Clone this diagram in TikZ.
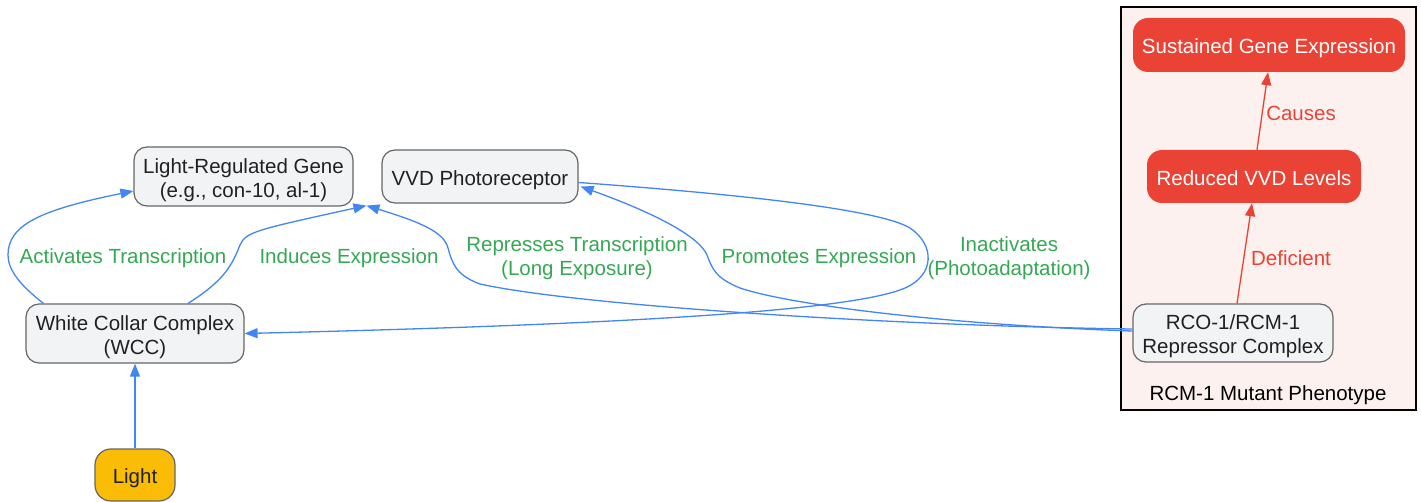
\documentclass[tikz,border=0pt]{standalone}
\usepackage{fontspec}
\setmainfont{Liberation Sans}
\usetikzlibrary{arrows.meta}
\definecolor{eblue}{HTML}{4285F4}
\definecolor{egreen}{HTML}{34A853}
\definecolor{ered}{HTML}{EA4335}
\definecolor{nfill}{HTML}{F1F3F4}
\definecolor{nborder}{HTML}{666666}
\definecolor{ntext}{HTML}{202124}
\definecolor{gold}{HTML}{FBBC05}
\definecolor{pinkbg}{HTML}{FDF1F0}
\begin{document}
\begin{tikzpicture}[x=1pt,y=-1pt, font=\fontsize{20.5}{24}\selectfont,
 box/.style={draw=nborder, line width=1.2pt, fill=nfill, rounded corners=13pt, text=ntext, align=center, inner sep=0pt},
 one/.style={text height=22pt, text depth=4.5pt},
 two/.style={text height=46pt, text depth=4.5pt},
 redbox/.style={fill=ered, rounded corners=15pt, text=white, align=center, inner sep=0pt, one},
 arr/.style={draw=eblue, line width=1.3pt, -{Triangle[length=13pt,width=10pt]}},
 rarr/.style={draw=ered, line width=1.3pt, -{Triangle[length=13pt,width=10pt]}},
 lbl/.style={text=egreen, align=center, inner sep=0pt},
 rlbl/.style={text=ered, align=center, inner sep=0pt}]
\useasboundingbox (0,0) rectangle (1421,502);

% cluster
\node[draw=black, fill=pinkbg, line width=1.2pt, minimum width=295pt, minimum height=403pt, inner sep=0pt] (clu) at (1268.5,208.5) {};
\node[text=black, inner sep=0pt] (clulbl) at (1268,395) {RCM-1 Mutant Phenotype};

% nodes
\node[box, two, minimum width=219pt, minimum height=59pt] (lrg) at (243.5,176.5) {Light-Regulated Gene\\(e.g., con-10, al-1)};
\node[box, one, minimum width=196pt, minimum height=53pt] (vvd) at (480,176.5) {VVD Photoreceptor};
\node[box, two, minimum width=218pt, minimum height=59pt] (wcc) at (135,333.5) {White Collar Complex\\(WCC)};
\node[box, one, fill=gold, rounded corners=16pt, minimum width=80pt, minimum height=52pt] (light) at (135,475) {Light};
\node[box, two, minimum width=200pt, minimum height=58pt] (rco) at (1233,333) {RCO-1/RCM-1\\Repressor Complex};
\node[redbox, minimum width=214pt, minimum height=53pt] (red) at (1254,176.5) {Reduced VVD Levels};
\node[redbox, minimum width=272pt, minimum height=54pt] (sus) at (1269,45) {Sustained Gene Expression};

\coordinate (tip) at ([xshift=-15pt,yshift=-2pt]vvd.south west);

% edges
\draw[arr] (light) -- (wcc);
\draw[arr] ([xshift=18pt]wcc.north west) .. controls (20,285) and (8,270) .. (8,255)
   .. controls (8,225) and (40,210) .. ([yshift=-14.5pt]lrg.west);
\draw[arr] ([xshift=53pt]wcc.north) .. controls (225,280) and (232,265) .. (240,245)
   .. controls (246,232) and (255,230) .. (tip);
\draw[arr] ([yshift=4pt]rco.west) .. controls (900,326) and (580,306) .. (480,284)
   .. controls (455,275) and (452,262) .. (448,248)
   .. controls (444,232) and (420,222) .. (tip);
\draw[arr] ([yshift=2pt]rco.west) .. controls (950,325) and (790,305) .. (740,288)
   .. controls (715,278) and (712,268) .. (707,255)
   .. controls (700,238) and (660,215) .. ([xshift=2pt,yshift=-10pt]vvd.east);
\draw[arr] ([yshift=-6pt]vvd.east) .. controls (750,195) and (880,210) .. (910,228)
   .. controls (935,245) and (935,275) .. (905,288)
   .. controls (850,312) and (600,325) .. (wcc.east);
\draw[rarr] ([xshift=4pt]rco.north) -- ([xshift=-2pt]red.south);
\draw[rarr] ([xshift=3pt]red.north) -- ([xshift=-1pt]sus.south);

% labels
\node[lbl] (l1) at (123,258) {Activates Transcription};
\node[lbl] (l2) at (349,258) {Induces Expression};
\node[lbl] (l3) at (577,258.5) {Represses Transcription\\(Long Exposure)};
\node[lbl] (l4) at (819,258) {Promotes Expression};
\node[lbl] (l5) at (1009,258.5) {Inactivates\\(Photoadaptation)};
\node[rlbl] (l6) at (1301,113) {Causes};
\node[rlbl] (l7) at (1291,258) {Deficient};
\end{tikzpicture}
\end{document}
